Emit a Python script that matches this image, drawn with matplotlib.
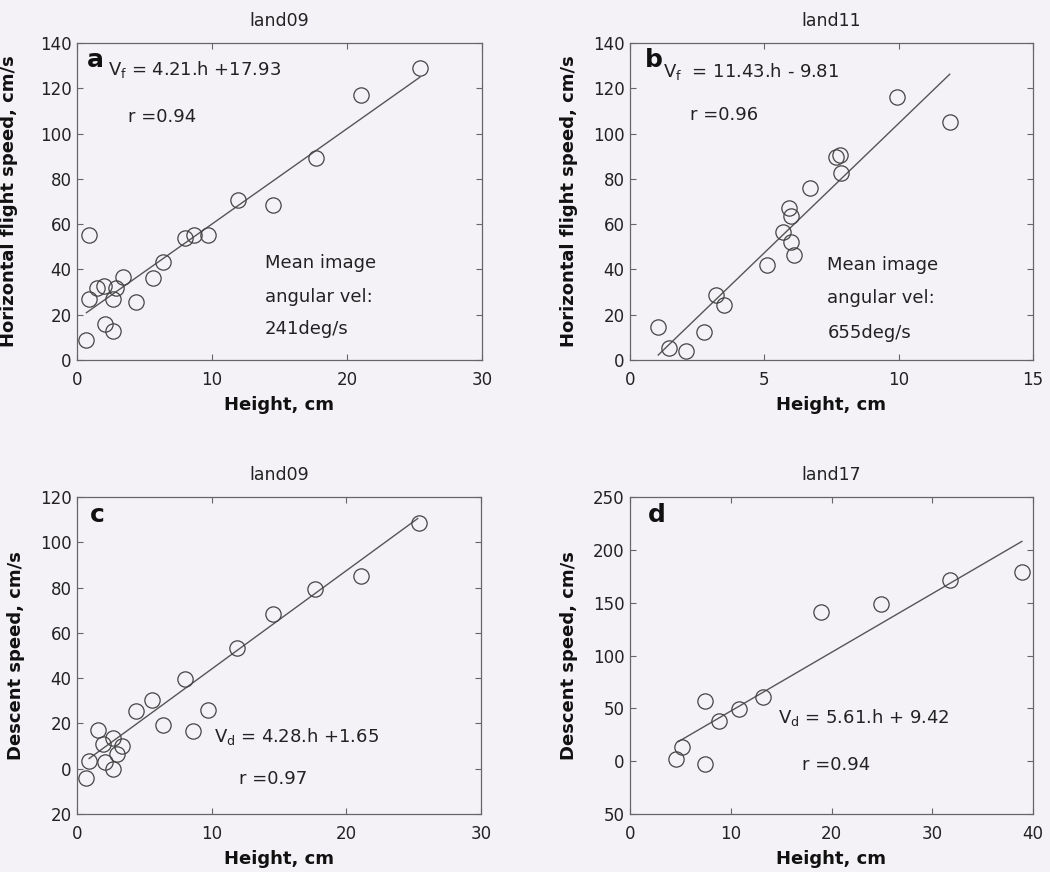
import matplotlib
matplotlib.use("Agg")
import matplotlib.pyplot as plt
import numpy as np

# ---------------- data ----------------
a_h = [0.7, 0.9, 0.9, 1.5, 2.0, 2.1, 2.7, 2.7, 2.9, 3.4, 4.4, 5.6, 6.4, 8.0, 8.7, 9.7, 11.9, 14.5, 17.7, 21.0, 25.4]
a_v = [9, 55, 27, 32, 32.5, 16, 27, 13, 32, 36.5, 25.5, 36, 43.5, 54, 55, 55, 70.5, 68.5, 89, 117, 129]
a_line_h = [0.7, 25.4]
a_line_v = [20.9, 124.9]

b_h = [1.05, 1.45, 2.1, 2.75, 3.2, 3.5, 5.1, 5.7, 5.9, 6.0, 6.0, 6.1, 6.7, 7.65, 7.8, 7.85, 9.95, 11.9]
b_v = [14.5, 5.5, 4, 12.5, 28.5, 24.5, 42, 56.5, 67, 63.5, 52, 46.5, 76, 89.5, 90.5, 82.5, 116, 105]
b_line_h = [1.05, 11.9]
b_line_v = [2.2, 126.2]

c_h = [0.65, 0.9, 1.55, 1.95, 2.1, 2.7, 2.7, 2.95, 3.35, 4.4, 5.6, 6.4, 8.0, 8.65, 9.7, 11.85, 14.55, 17.7, 21.1, 25.4]
c_v = [-4, 3.5, 17, 11, 3, 13.5, 0, 6.5, 10, 25.5, 30.5, 19.5, 39.5, 16.5, 26, 53.5, 68.5, 79.5, 85, 108.5]
c_line_h = [0.9, 25.3]
c_line_v = [4.5, 110.5]

d_h = [4.6, 5.15, 7.4, 7.45, 8.85, 10.8, 13.2, 19.0, 24.9, 31.75, 38.9]
d_v = [2, 13, -2.5, 56.5, 38, 49.5, 60.5, 141.5, 149, 171, 179]
d_line_h = [4.8, 38.9]
d_line_v = [18.5, 208]

titles = ["land09", "land11", "land09", "land17"]
letters = ["a", "b", "c", "d"]
xlabel = "Height, cm"
ylabels = ["Horizontal flight speed, cm/s", "Horizontal flight speed, cm/s",
           "Descent speed, cm/s", "Descent speed, cm/s"]

a_xticks = [0, 10, 20, 30]
b_xticks = [0, 5, 10, 15]
c_xticks = [0, 10, 20, 30]
d_xticks = [0, 10, 20, 30, 40]
ab_yticks = [0, 20, 40, 60, 80, 100, 120, 140]
ab_yticklabels = ["0", "20", "40", "60", "80", "100", "120", "140"]
c_yticks = [-20, 0, 20, 40, 60, 80, 100, 120]
c_yticklabels = ["20", "0", "20", "40", "60", "80", "100", "120"]
d_yticks = [-50, 0, 50, 100, 150, 200, 250]
d_yticklabels = ["50", "0", "50", "100", "150", "200", "250"]

eq_texts = ["V$_\\mathrm{f}$ = 4.21.h +17.93", "V$_\\mathrm{f}$  = 11.43.h - 9.81",
            "V$_\\mathrm{d}$ = 4.28.h +1.65", "V$_\\mathrm{d}$ = 5.61.h + 9.42"]
r_texts = ["r =0.94", "r =0.96", "r =0.97", "r =0.94"]
mean_texts = [["Mean image", "angular vel:", "241deg/s"],
              ["Mean image", "angular vel:", "655deg/s"], None, None]

# ---------------- style ----------------
bg = "#f4f2f7"
plt.rcParams["font.family"] = ["DejaVu Sans"]
plt.rcParams["mathtext.fontset"] = "dejavusans"

fig = plt.figure(figsize=(10.5, 8.72), dpi=100, facecolor=bg)

rects = [
    [77 / 1050, 1 - 360 / 872, 405 / 1050, 317 / 872],
    [630 / 1050, 1 - 360 / 872, 403 / 1050, 317 / 872],
    [77 / 1050, 1 - 814 / 872, 404 / 1050, 317 / 872],
    [630 / 1050, 1 - 814 / 872, 403 / 1050, 317 / 872],
]
datasets = [(a_h, a_v, a_line_h, a_line_v), (b_h, b_v, b_line_h, b_line_v),
            (c_h, c_v, c_line_h, c_line_v), (d_h, d_v, d_line_h, d_line_v)]
xlims = [(0, 30), (0, 15), (0, 30), (0, 40)]
ylims = [(0, 140), (0, 140), (-20, 120), (-50, 250)]
xticks = [a_xticks, b_xticks, c_xticks, d_xticks]
yticks = [(ab_yticks, ab_yticklabels), (ab_yticks, ab_yticklabels),
          (c_yticks, c_yticklabels), (d_yticks, d_yticklabels)]
letter_pos = [(0.025, 0.946), (0.037, 0.946), (0.032, 0.943), (0.045, 0.943)]
eq_pos = [(0.077, 0.915), (0.083, 0.909), (0.339, 0.246), (0.368, 0.305)]
r_pos = [(0.126, 0.767), (0.149, 0.773), (0.40, 0.109), (0.426, 0.155)]
mean_pos = [(0.464, [0.306, 0.199, 0.098]), (0.49, [0.30, 0.195, 0.085]), None, None]
ylab_x = [-0.146, -0.129, -0.129, -0.129]

line_col = "#555555"
spine_col = "#666666"

for i in range(4):
    ax = fig.add_axes(rects[i])
    ax.set_facecolor(bg)
    h, v, lh, lv = datasets[i]
    ax.plot(lh, lv, color=line_col, lw=1.0)
    ax.plot(h, v, linestyle="none", marker="o", ms=11, mfc="none",
            mec="#444444", mew=0.9)
    ax.set_xlim(*xlims[i])
    ax.set_ylim(*ylims[i])
    ax.set_xticks(xticks[i])
    ax.set_xticklabels([str(t) for t in xticks[i]])
    ax.set_yticks(yticks[i][0])
    ax.set_yticklabels(yticks[i][1])
    ax.tick_params(direction="in", length=4, width=0.8, color=spine_col,
                   top=True, right=True, labelsize=12, labelcolor="#222222")
    ax.tick_params(axis="x", pad=8)
    ax.tick_params(axis="y", pad=4)
    for s in ax.spines.values():
        s.set_color(spine_col)
        s.set_linewidth(0.9)
    ax.set_title(titles[i], fontsize=12.5, pad=12, color="#222222")
    ax.set_xlabel(xlabel, fontsize=13, fontweight="bold", color="#111111")
    ax.xaxis.set_label_coords(0.5, -0.115)
    ax.set_ylabel(ylabels[i], fontsize=13, fontweight="bold", color="#111111")
    ax.yaxis.set_label_coords(ylab_x[i], 0.5)

    ax.text(letter_pos[i][0], letter_pos[i][1], letters[i], transform=ax.transAxes,
            fontsize=18, fontweight="bold", ha="left", va="center", color="#111111")
    ax.text(eq_pos[i][0], eq_pos[i][1], eq_texts[i], transform=ax.transAxes,
            fontsize=13, ha="left", va="center", color="#222222")
    ax.text(r_pos[i][0], r_pos[i][1], r_texts[i], transform=ax.transAxes,
            fontsize=13, ha="left", va="center", color="#222222")
    if mean_texts[i] is not None:
        mx, mys = mean_pos[i]
        for txt, my in zip(mean_texts[i], mys):
            ax.text(mx, my, txt, transform=ax.transAxes, fontsize=13,
                    ha="left", va="center", color="#222222")

fig.savefig("out.png", dpi=100, facecolor=bg)
